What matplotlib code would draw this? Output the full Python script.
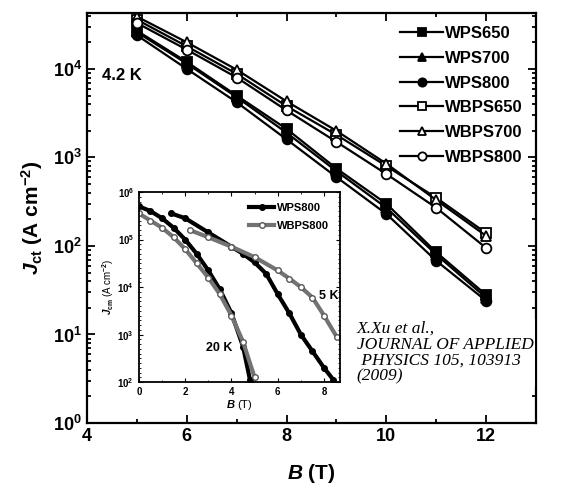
import numpy as np
import matplotlib.pyplot as plt
from matplotlib.ticker import LogLocator, MultipleLocator, NullFormatter

plt.rcParams['font.family'] = ['Liberation Sans', 'DejaVu Sans']
plt.rcParams['font.weight'] = 'bold'
plt.rcParams['mathtext.fontset'] = 'custom'
plt.rcParams['mathtext.rm'] = 'Liberation Sans:bold'
plt.rcParams['mathtext.bf'] = 'Liberation Sans:bold'
plt.rcParams['mathtext.it'] = 'Liberation Sans:italic:bold'

# main panel: Jct at 4.2 K
B = [5, 6, 7, 8, 9, 10, 11, 12]
wps650 = [2.7e4, 1.2e4, 5.0e3, 2.1e3, 7.5e2, 3.0e2, 8.5e1, 2.8e1]
wps700 = [2.6e4, 1.15e4, 4.8e3, 1.9e3, 7.0e2, 2.7e2, 8.0e1, 2.6e1]
wps800 = [2.4e4, 1.0e4, 4.2e3, 1.6e3, 6.0e2, 2.3e2, 6.8e1, 2.4e1]
wbps650 = [3.6e4, 1.8e4, 8.8e3, 3.8e3, 1.8e3, 8.0e2, 3.5e2, 1.4e2]
wbps700 = [3.9e4, 2.0e4, 9.8e3, 4.3e3, 2.0e3, 8.5e2, 3.3e2, 1.3e2]
wbps800 = [3.3e4, 1.65e4, 8.0e3, 3.4e3, 1.5e3, 6.5e2, 2.7e2, 9.5e1]

# inset: log10(Jcm) vs B
b20_wps = [0, 0.5, 1, 1.5, 2, 2.5, 3, 3.5, 4, 4.5, 4.8]
j20_wps = [5.7, 5.6, 5.45, 5.25, 5.0, 4.7, 4.35, 3.95, 3.45, 2.75, 2.05]
b20_wbps = [0, 0.5, 1, 1.5, 2, 2.5, 3, 3.5, 4, 4.5, 5.0]
j20_wbps = [5.55, 5.4, 5.25, 5.05, 4.8, 4.5, 4.2, 3.85, 3.4, 2.85, 2.1]
b5_wps = [1.4, 2, 3, 4, 4.5, 5, 5.5, 6, 6.5, 7, 7.5, 8, 8.4]
j5_wps = [5.55, 5.45, 5.15, 4.85, 4.7, 4.52, 4.28, 3.85, 3.45, 3.0, 2.65, 2.3, 2.05]
b5_wbps = [2.2, 3, 4, 5, 6, 6.5, 7, 7.5, 8, 8.55]
j5_wbps = [5.2, 5.05, 4.85, 4.63, 4.35, 4.18, 4.0, 3.78, 3.4, 2.95]

fig = plt.figure(figsize=(5.69, 4.95), dpi=100)
ax = fig.add_axes([0.153, 0.1455, 0.789, 0.8285])

series = [
    (wps650, 's', 'black', 'WPS650'),
    (wps700, '^', 'black', 'WPS700'),
    (wps800, 'o', 'black', 'WPS800'),
    (wbps650, 's', 'white', 'WBPS650'),
    (wbps700, '^', 'white', 'WBPS700'),
    (wbps800, 'o', 'white', 'WBPS800'),
]
for vals, m, fc, lab in series:
    ax.plot(B, vals, color='black', lw=1.6, marker=m, ms=7,
            mfc=fc, mec='black', mew=1.3, label=lab)

ax.set_yscale('log')
ax.set_xlim(4, 13)
ax.set_ylim(1, 4.3e4)
ax.set_xticks([4, 6, 8, 10, 12])
ax.xaxis.set_minor_locator(MultipleLocator(1))
ax.yaxis.set_major_locator(LogLocator(base=10, numticks=10))
ax.yaxis.set_minor_locator(LogLocator(base=10, subs=np.arange(2, 10), numticks=10))
ax.yaxis.set_minor_formatter(NullFormatter())
ax.tick_params(which='both', direction='in', top=True, right=True, width=1.3)
ax.tick_params(which='major', length=6, labelsize=13)
ax.tick_params(which='minor', length=3)
for s in ax.spines.values():
    s.set_linewidth(1.6)
ax.set_xlabel(r'$B$ (T)', fontsize=15, fontweight='bold', labelpad=12)
ax.set_ylabel(r'$J_{\rm ct}$ (A cm$^{-2}$)', fontsize=15, fontweight='bold', labelpad=6)
ax.text(4.3, 7.5e3, '4.2 K', fontsize=12, fontweight='bold')
ax.legend(loc='upper right', frameon=False, fontsize=12, handlelength=2.6,
          handletextpad=0.1, labelspacing=0.58, borderaxespad=0.5,
          borderpad=0.3, markerscale=0.85)

fig.text(0.627, 0.352, 'X.Xu et al.,\nJOURNAL OF APPLIED\n PHYSICS 105, 103913\n(2009)',
         family='Liberation Serif', style='italic', fontweight='normal',
         fontsize=12.5, linespacing=1.0, va='top', ha='left', zorder=5,
         bbox=dict(facecolor='white', edgecolor='none', pad=1))

# inset
ins = fig.add_axes([0.244, 0.228, 0.354, 0.384])
ins.plot(b5_wps, j5_wps, color='black', lw=3, marker='o', ms=4, mfc='black',
         mec='black', label='WPS800')
ins.plot(b5_wbps, j5_wbps, color='0.45', lw=3, marker='o', ms=4, mfc='white',
         mec='0.35', label='WBPS800')
ins.plot(b20_wps, j20_wps, color='black', lw=3, marker='o', ms=4, mfc='black', mec='black')
ins.plot(b20_wbps, j20_wbps, color='0.45', lw=3, marker='o', ms=4, mfc='white', mec='0.35')
ins.set_xlim(0, 8.7)
ins.set_ylim(2, 6)
ins.set_xticks([0, 2, 4, 6, 8])
ins.set_yticks([2, 3, 4, 5, 6])
ins.set_yticklabels([r'$10^{%d}$' % k for k in [2, 3, 4, 5, 6]])
ins.yaxis.set_minor_locator(MultipleLocator(0.1))
ins.xaxis.set_minor_locator(MultipleLocator(1))
ins.tick_params(which='both', direction='in', top=True, right=True, labelsize=7)
ins.tick_params(which='major', length=3)
ins.tick_params(which='minor', length=1.5)
for s in ins.spines.values():
    s.set_linewidth(1.3)
ins.set_xlabel(r'$B$ (T)', fontsize=8, labelpad=1)
ins.set_ylabel(r'$J_{\rm cm}$ (A cm$^{-2}$)', fontsize=7, labelpad=1)
ins.text(7.8, 3.75, '5 K', fontsize=9, fontweight='bold')
ins.text(2.9, 2.65, '20 K', fontsize=9, fontweight='bold')
ins.legend(loc='upper right', frameon=False, fontsize=8, handlelength=2.2,
           handletextpad=0.3, labelspacing=0.7, borderaxespad=0.6)

fig.savefig('out.png', dpi=100)
